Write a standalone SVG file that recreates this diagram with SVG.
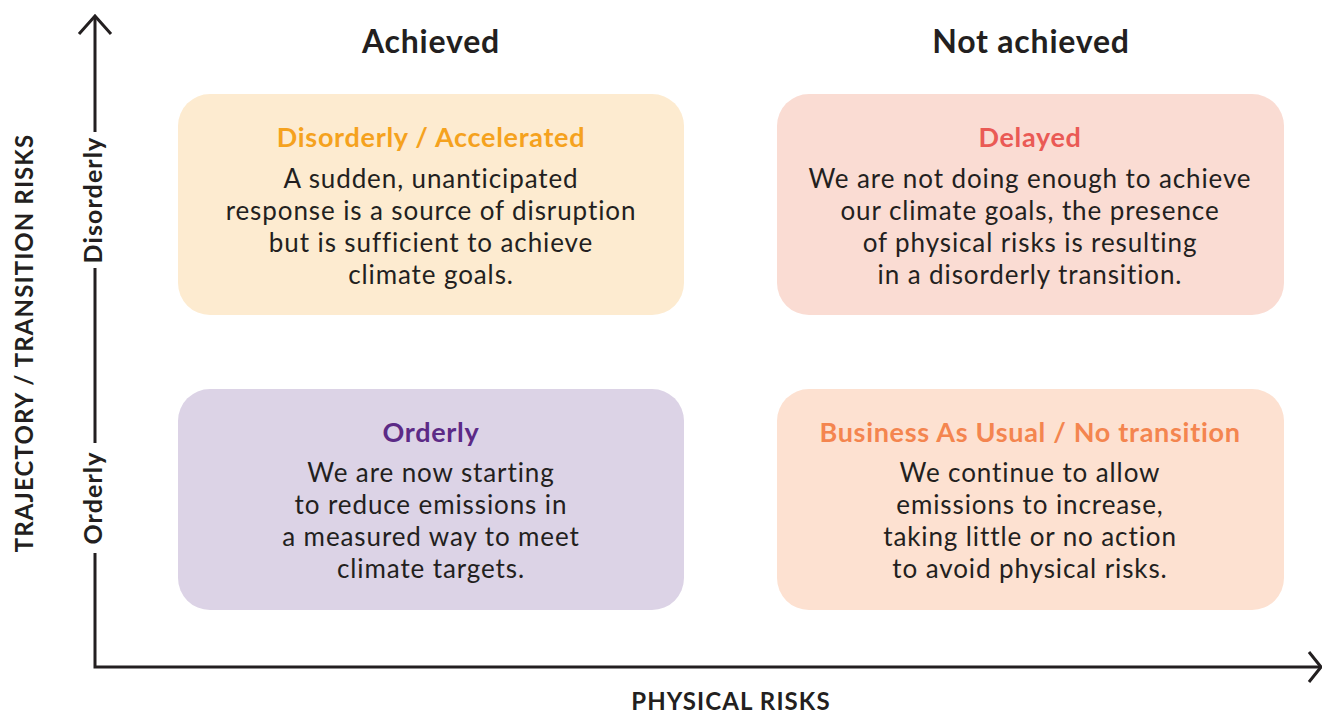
<svg xmlns="http://www.w3.org/2000/svg" width="1322" height="713" viewBox="0 0 1322 713">
<style>
.axis{stroke:#231f20;stroke-width:3;fill:none;stroke-linecap:butt}
.hdr{font-family:Lato,"Liberation Sans",sans-serif;font-weight:700;font-size:32px;letter-spacing:0.8px;fill:#231f20;text-anchor:middle}
.ax{font-family:Lato,"Liberation Sans",sans-serif;font-weight:700;font-size:24px;letter-spacing:1.1px;fill:#231f20;text-anchor:middle}
.tick{font-family:Lato,"Liberation Sans",sans-serif;font-weight:700;font-size:25px;letter-spacing:1.1px;fill:#231f20;text-anchor:middle}
.title{font-family:Lato,"Liberation Sans",sans-serif;font-weight:700;font-size:27px;letter-spacing:0.7px;text-anchor:middle}
.body{font-family:Lato,"Liberation Sans",sans-serif;font-weight:400;font-size:26px;letter-spacing:0.9px;fill:#231f20;text-anchor:middle}
</style>
<g id="axes">
<path class="axis" d="M95 16 V132 M95 268 V443 M95 553 V667 H1320"/>
<path class="axis" d="M79 34 L95 16 L111 34"/>
<path class="axis" d="M1309 652 L1321 667 L1309 682"/>
<text class="tick" transform="translate(102 200) rotate(-90)">Disorderly</text>
<text class="tick" transform="translate(102 498) rotate(-90)">Orderly</text>
<text class="ax" transform="translate(33 343) rotate(-90)">TRAJECTORY / TRANSITION RISKS</text>
<text class="ax" x="731" y="710">PHYSICAL RISKS</text>
</g>
<g id="headers">
<text class="hdr" x="431" y="53">Achieved</text>
<text class="hdr" x="1031" y="53">Not achieved</text>
</g>
<g id="disorderly">
<rect x="178" y="94" width="506" height="221" rx="32" fill="#fdebd0"/>
<text class="title" x="431" y="147" fill="#f5a21e">Disorderly / Accelerated</text>
<text class="body" x="431" y="188">A sudden, unanticipated</text>
<text class="body" x="431" y="220">response is a source of disruption</text>
<text class="body" x="431" y="252">but is sufficient to achieve</text>
<text class="body" x="431" y="284">climate goals.</text>
</g>
<g id="delayed">
<rect x="777" y="94" width="507" height="221" rx="32" fill="#fadcd3"/>
<text class="title" x="1030" y="147" fill="#ea5a55">Delayed</text>
<text class="body" x="1030" y="188">We are not doing enough to achieve</text>
<text class="body" x="1030" y="220">our climate goals, the presence</text>
<text class="body" x="1030" y="252">of physical risks is resulting</text>
<text class="body" x="1030" y="284">in a disorderly transition.</text>
</g>
<g id="orderly">
<rect x="178" y="389" width="506" height="221" rx="32" fill="#dcd3e6"/>
<text class="title" x="431" y="442" fill="#5c2a86">Orderly</text>
<text class="body" x="431" y="482">We are now starting</text>
<text class="body" x="431" y="514">to reduce emissions in</text>
<text class="body" x="431" y="546">a measured way to meet</text>
<text class="body" x="431" y="578">climate targets.</text>
</g>
<g id="bau">
<rect x="777" y="389" width="507" height="221" rx="32" fill="#fde1d1"/>
<text class="title" x="1030" y="442" fill="#f4854f">Business As Usual / No transition</text>
<text class="body" x="1030" y="482">We continue to allow</text>
<text class="body" x="1030" y="514">emissions to increase,</text>
<text class="body" x="1030" y="546">taking little or no action</text>
<text class="body" x="1030" y="578">to avoid physical risks.</text>
</g>
</svg>
